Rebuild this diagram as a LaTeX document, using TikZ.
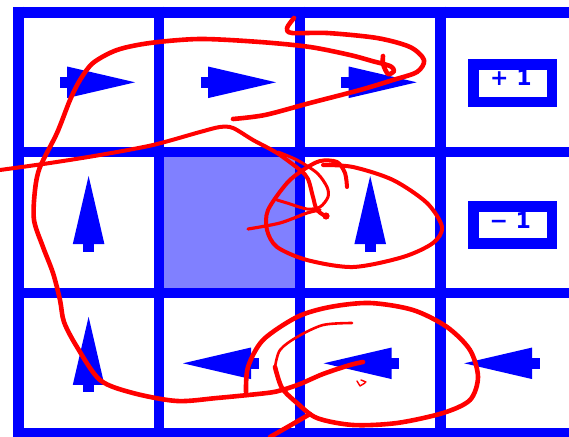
\documentclass[tikz,border=0pt]{standalone}
\usepackage{fontspec}
\newfontfamily\boxfont{DejaVu Sans}
\definecolor{gblue}{RGB}{0,0,255}
\definecolor{shadeblue}{RGB}{128,128,255}
\definecolor{penred}{RGB}{255,0,0}
\tikzset{
  gridline/.style={draw=gblue, line width=10.5pt},
  valuebox/.style={draw=gblue, line width=10.7pt, minimum width=78.3pt, minimum height=37.3pt, inner sep=0pt},
  valuetext/.style={text=gblue, font=\boxfont\bfseries\fontsize{22}{26}\selectfont, inner sep=0pt, anchor=base},
  penstroke/.style={draw=penred, line width=4.6pt, line cap=round, line join=round},
  thinpen/.style={penstroke, line width=2.6pt},
  cellarrow/.pic={
    \fill[gblue] (-29,-5.4) rectangle (-21,5.4);
    \fill[gblue] (-21.5,-15.8) -- (46.5,0) -- (-21.5,15.8) -- cycle;
  }
}
\begin{document}
\begin{tikzpicture}[x=1pt,y=-1pt]
\useasboundingbox (0,0) rectangle (569,436);
\clip (0,0) rectangle (569,436);
\fill[white] (0,0) rectangle (569,436);
% shaded cell
\fill[shadeblue] (159,152) rectangle (300,293);
% arrows
\pic at (88.6,82.3) {cellarrow};
\pic at (229.5,82.3) {cellarrow};
\pic at (370.2,82.3) {cellarrow};
\pic[rotate=90] at (88.6,222.5) {cellarrow};
\pic[rotate=90] at (370.2,222.5) {cellarrow};
\pic[rotate=90] at (88.6,363.3) {cellarrow};
\pic[rotate=180] at (229.5,363.3) {cellarrow};
\pic[rotate=180] at (370.2,363.3) {cellarrow};
\pic[rotate=180] at (510.7,363.3) {cellarrow};
% value boxes
\node[valuebox] (plusbox) at (512.8,83.3) {};
\node[valuebox] (minusbox) at (512.8,225) {};
\node[valuetext] (plustext) at (510.9,85.8) {+ 1};
\node[valuetext] (minustext) at (510.3,228.3) {− 1};
% grid
\foreach \gx in {18.3,159,300,440.5} \draw[gridline] (\gx,6.7) -- (\gx,436);
\foreach \gy in {12.5,152,293,433.5} \draw[gridline] (13,\gy) -- (569,\gy);
% red scribbles
\draw[penstroke] plot[smooth] coordinates {(233,119) (265,115) (310,103) (360,90) (393,80) (417,72) (424,60) (410,47) (377,38) (327,33) (292,33) (287,28) (294,18)};
\draw[penstroke] plot[smooth] coordinates {(383,56) (383,64) (388,74) (394,71) (390,66) (372,61) (350,55) (310,47) (260,42) (200,39) (150,43) (117,50) (93,63) (80,80) (70,100) (57,133) (40,167) (35,190) (34,220) (43,247) (53,273) (60,300) (64,322) (77,347) (100,380) (133,393) (177,401) (217,398) (267,393) (282,390) (300,384) (323,374) (350,365) (363,362)};
\draw[penstroke, line width=4pt] plot[smooth] coordinates {(0,170) (50,163) (100,155) (153,145) (200,132) (220,127) (233,128) (253,140) (277,153) (300,170) (308,179) (313,197) (317,210) (327,217)};
\fill[penred] (326,216) circle (3.6);
\draw[thinpen, line width=3pt] plot[smooth] coordinates {(278,152) (297,160) (317,173) (327,187) (328,197) (320,207) (307,209) (287,203) (277,200)};
\draw[thinpen, line width=3.2pt] plot[smooth] coordinates {(248,229) (280,223) (307,213) (320,210)};
\draw[penstroke, line width=4pt] plot[smooth] coordinates {(347,187) (345,173) (337,162) (320,161) (303,170) (287,183) (268,210) (267,230) (277,247) (307,260) (353,267) (403,257) (433,243) (442,227) (427,203) (393,180) (353,167) (323,165)};
\draw[penstroke] plot[smooth] coordinates {(246,392) (248,367) (263,340) (297,317) (330,307) (370,303) (413,310) (447,327) (470,350) (478,377) (470,400) (443,413) (397,423) (353,425) (317,418) (297,403) (282,388) (275,367)};
\draw[thinpen] plot[smooth] coordinates {(275,367) (280,350) (297,337) (323,325) (352,323)};
\draw[penstroke] plot[smooth] coordinates {(310,414) (291,425) (270,437)};
\draw[thinpen, line width=1.4pt] (357,381) -- (360,386) -- (365,383) (361,380) -- (366,382);
\end{tikzpicture}
\end{document}
